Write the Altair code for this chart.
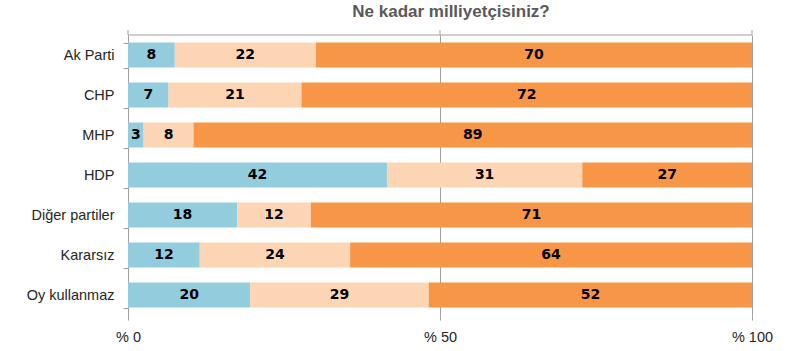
import altair as alt
import pandas as pd

categories = ["Ak Parti", "CHP", "MHP", "HDP", "Diğer partiler", "Kararsız", "Oy kullanmaz"]
# printed labels
low = [8, 7, 3, 42, 18, 12, 20]
mid = [22, 21, 8, 31, 12, 24, 29]
high = [70, 72, 89, 27, 71, 64, 52]
# bar shares (unrounded)
low_share = [7.5, 6.5, 2.5, 41.5, 17.5, 11.5, 19.6]
mid_share = [22.6, 21.3, 8.0, 31.3, 11.8, 24.1, 28.6]
high_share = [69.9, 72.2, 89.5, 27.2, 70.7, 64.4, 51.8]
groups = ["low", "mid", "high"]
colors = ["#93CDDD", "#FCD5B5", "#F79646"]
tick_values = [0, 50, 100]

rows = []
for i, c in enumerate(categories):
    for j, (g, vals, shares) in enumerate(zip(groups, [low, mid, high],
                                              [low_share, mid_share, high_share])):
        rows.append({"cat": c, "grp": g, "ord": j, "val": vals[i], "share": shares[i]})
df = pd.DataFrame(rows)

W, H = 624, 280
FONT = "Liberation Sans"

base = (
    alt.Chart(df)
    .transform_joinaggregate(total="sum(share)", groupby=["cat"])
    .transform_stack(stack="share", groupby=["cat"], as_=["s0", "s1"],
                     sort=[alt.SortField("ord", order="ascending")])
    .transform_calculate(
        x0="datum.s0 / datum.total * 100",
        x1="datum.s1 / datum.total * 100",
        xm="(datum.s0 + datum.s1) / 2 / datum.total * 100",
    )
)

yenc = alt.Y(
    "cat:N", sort=categories, title=None,
    scale=alt.Scale(paddingInner=0.375, paddingOuter=0.1875),
    axis=alt.Axis(tickBand="extent", tickSize=5, tickColor="#A0A0A0",
                  domainColor="#A0A0A0", labelFontSize=14.5, labelColor="#262626",
                  labelFont=FONT, labelPadding=9),
)

xscale = alt.Scale(domain=[0, 100], nice=False, zero=True)

bars = base.mark_bar().encode(
    x=alt.X("x0:Q", scale=xscale, title=None,
            axis=alt.Axis(values=tick_values, labelExpr="'% ' + datum.value",
                          grid=True, gridColor="#A0A0A0", domain=False,
                          tickSize=5, tickColor="#A0A0A0", labelFlush=False,
                          labelFontSize=14.5, labelColor="#262626", labelFont=FONT,
                          labelPadding=10)),
    x2="x1:Q",
    y=yenc,
    color=alt.Color("grp:N", scale=alt.Scale(domain=groups, range=colors), legend=None),
)

texts = base.mark_text(fontWeight="bold", fontSize=14, color="black",
                       font="DejaVu Sans").encode(
    x=alt.X("xm:Q", scale=xscale),
    y=alt.Y("cat:N", sort=categories),
    text="val:Q",
)

top_line = alt.Chart(pd.DataFrame({"v": [0]})).mark_rule(color="#A0A0A0").encode(
    x=alt.value(0), x2=alt.value(W), y=alt.value(0)
)

top_ticks = alt.Chart(pd.DataFrame({"v": tick_values})).mark_rule(color="#A0A0A0").encode(
    x=alt.X("v:Q", scale=xscale), y=alt.value(-5), y2=alt.value(0)
)

chart = (
    alt.layer(bars, texts, top_line, top_ticks)
    .properties(
        width=W, height=H,
        title=alt.TitleParams("Ne kadar milliyetçisiniz?", fontSize=17, fontWeight="bold",
                              color="#595959", font=FONT, anchor="middle", offset=6, dx=11),
        autosize=alt.AutoSizeParams(type="none"),
        padding={"left": 128, "top": 35, "right": 36, "bottom": 36},
    )
    .configure_view(stroke=None)
)

chart.save("out.html", embed_options={"renderer": "svg", "actions": False})
